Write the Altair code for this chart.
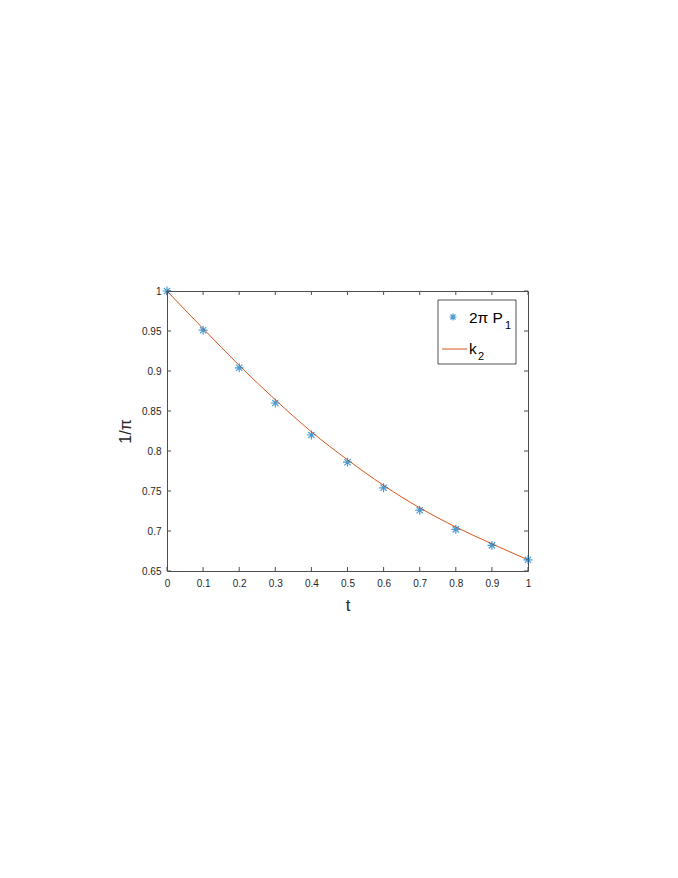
import altair as alt
import pandas as pd

# ---- data ----
t_vals = [0.0, 0.1, 0.2, 0.3, 0.4, 0.5, 0.6, 0.7, 0.8, 0.9, 1.0]
p1_vals = [1.000, 0.951, 0.904, 0.860, 0.820, 0.786, 0.754, 0.726, 0.702, 0.682, 0.664]
k2_vals = [1.000, 0.953, 0.907, 0.864, 0.824, 0.789, 0.757, 0.729, 0.705, 0.684, 0.664]

x_ticks = [0, 0.1, 0.2, 0.3, 0.4, 0.5, 0.6, 0.7, 0.8, 0.9, 1]
y_ticks = [0.65, 0.7, 0.75, 0.8, 0.85, 0.9, 0.95, 1]

legend_labels = ["2\u03c0 P", "k"]
legend_subs = ["1", "2"]

x_title = "t"
y_title = "1/\u03c0"

# ---- styling ----
W, H = 361, 280
AX = "#4d4d4d"
TXT = "#262626"
BLUE = "#0072BD"
ORANGE = "#D95319"
FONT = "Liberation Sans"
ASTER = "M-1,0L1,0M0,-1L0,1M-0.7,-0.7L0.7,0.7M-0.7,0.7L0.7,-0.7"

df = pd.DataFrame({"t": t_vals, "p1": p1_vals, "k2": k2_vals})
xt = pd.DataFrame({"v": x_ticks})
yt = pd.DataFrame({"v": y_ticks})

xscale = alt.Scale(domain=[0, 1], nice=False, zero=False)
yscale = alt.Scale(domain=[0.65, 1], nice=False, zero=False)

common_axis = dict(format="~g", grid=False, ticks=False, domain=False,
                   labelFont=FONT, labelFontSize=10, labelColor=TXT,
                   labelOverlap=False, labelFlush=False, labelBound=False,
                   titleFont=FONT, titleFontWeight="normal", titleColor=TXT)

xaxis = alt.Axis(values=x_ticks, labelPadding=7,
                 title=x_title, titleFontSize=17,
                 titleX=W / 2, titleY=39, titleAlign="center",
                 titleBaseline="alphabetic", **common_axis)
yaxis = alt.Axis(values=y_ticks, labelPadding=6,
                 title=y_title, titleFontSize=16,
                 titleX=-42, titleY=H / 2, titleAngle=270,
                 titleAlign="center", titleBaseline="middle", **common_axis)

X = lambda f: alt.X(f, scale=xscale, axis=xaxis, title=x_title)
Y = lambda f: alt.Y(f, scale=yscale, axis=yaxis, title=y_title)

line = alt.Chart(df).mark_line(color=ORANGE, strokeWidth=1, interpolate="monotone").encode(
    x=X("t:Q"), y=Y("k2:Q"),
)
pts = alt.Chart(df).mark_point(shape=ASTER, size=80, color=BLUE, strokeWidth=1.2,
                               filled=False).encode(
    x=X("t:Q"), y=Y("p1:Q"),
)

# inward ticks on all four sides
tb = alt.Chart(xt).mark_rule(color=AX, strokeWidth=1).encode(
    x=X("v:Q"), y=alt.value(H), y2=alt.value(H - 4))
tt = alt.Chart(xt).mark_rule(color=AX, strokeWidth=1).encode(
    x=X("v:Q"), y=alt.value(0), y2=alt.value(4))
tl = alt.Chart(yt).mark_rule(color=AX, strokeWidth=1).encode(
    y=Y("v:Q"), x=alt.value(0), x2=alt.value(4))
tr = alt.Chart(yt).mark_rule(color=AX, strokeWidth=1).encode(
    y=Y("v:Q"), x=alt.value(W), x2=alt.value(W - 4))

# legend
one = pd.DataFrame({"a": [0]})
lbox = alt.Chart(one).mark_rect(fill="white", stroke=TXT, strokeWidth=0.8).encode(
    x=alt.value(271), x2=alt.value(349), y=alt.value(9), y2=alt.value(73))
lsym = alt.Chart(one).mark_point(shape=ASTER, size=50, color=BLUE, strokeWidth=1.2).encode(
    x=alt.value(286), y=alt.value(26))
lline = alt.Chart(one).mark_rule(color=ORANGE, strokeWidth=1).encode(
    x=alt.value(275), x2=alt.value(300), y=alt.value(58))
txt_kw = dict(font=FONT, color="black", align="left", baseline="alphabetic")
lt1 = alt.Chart(one).mark_text(fontSize=15.5, **txt_kw).encode(
    x=alt.value(302), y=alt.value(32), text=alt.value(legend_labels[0]))
ls1 = alt.Chart(one).mark_text(fontSize=11, **txt_kw).encode(
    x=alt.value(338), y=alt.value(38), text=alt.value(legend_subs[0]))
lt2 = alt.Chart(one).mark_text(fontSize=15.5, **txt_kw).encode(
    x=alt.value(302), y=alt.value(63), text=alt.value(legend_labels[1]))
ls2 = alt.Chart(one).mark_text(fontSize=11, **txt_kw).encode(
    x=alt.value(311), y=alt.value(69), text=alt.value(legend_subs[1]))

chart = alt.layer(line, pts, tb, tt, tl, tr, lbox, lsym, lline, lt1, ls1, lt2, ls2).properties(
    width=W, height=H,
    autosize=alt.AutoSizeParams(type="none"),
    padding={"left": 159, "top": 283, "right": 140, "bottom": 290},
    background="white",
).configure_view(stroke=AX, strokeWidth=1)

chart.save("out.html", embed_options={"renderer": "svg", "actions": False})
